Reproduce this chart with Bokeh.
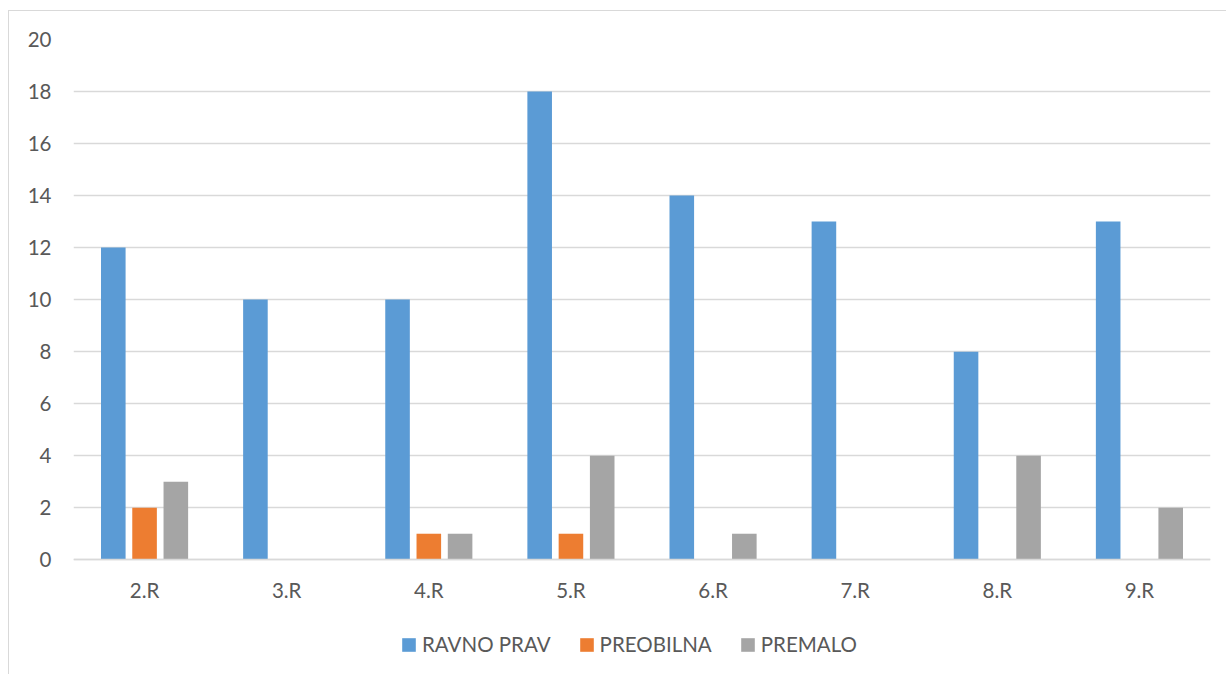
from bokeh.plotting import figure
from bokeh.models import (ColumnDataSource, FactorRange, Legend, LegendItem,
                          FixedTicker)
from bokeh.transform import dodge
from bokeh.embed import file_html
from bokeh.resources import INLINE

# Rounds and answer counts per category
rounds = ["2.R", "3.R", "4.R", "5.R", "6.R", "7.R", "8.R", "9.R"]
ravno_prav = [12, 10, 10, 18, 14, 13, 8, 13]
preobilna = [2, 0, 1, 1, 0, 0, 0, 0]
premalo = [3, 0, 1, 4, 1, 0, 4, 2]
y_ticks = [0, 2, 4, 6, 8, 10, 12, 14, 16, 18, 20]

series = [
    ("RAVNO PRAV", "ravno", "#5B9BD5", -0.22),
    ("PREOBILNA", "preobilna", "#ED7D31", 0.0),
    ("PREMALO", "premalo", "#A5A5A5", 0.22),
]

source = ColumnDataSource(data=dict(rounds=rounds, ravno=ravno_prav,
                                    preobilna=preobilna, premalo=premalo))

FONT = "Lato"
TEXT = "#595959"
GRID = "#D9D9D9"
FS = "20.5px"

# The frame reaches the bottom of the chart so the legend can sit under the
# category labels; the category axis stays anchored at zero.
p = figure(width=1218, height=664, x_range=FactorRange(*rounds, range_padding=0),
           y_range=(-4.45, 20), output_backend="svg", toolbar_location=None,
           min_border_left=64, min_border_right=17, min_border_top=28,
           min_border_bottom=0)
p.outline_line_color = None
p.background_fill_color = "white"
p.border_fill_color = "white"
# chart area border on the left and top edges
p.styles = {"margin-left": "8px", "margin-top": "10px",
            "border-left": "1px solid #D9D9D9", "border-top": "1px solid #D9D9D9"}

renderers = []
for label, col, color, off in series:
    r = p.vbar(x=dodge("rounds", off, range=p.x_range), top=col, width=0.173,
               source=source, fill_color=color, line_color=None)
    renderers.append((label, r))

# axes
p.yaxis.ticker = FixedTicker(ticks=y_ticks)
p.yaxis.axis_line_color = None
p.yaxis.major_tick_line_color = None
p.yaxis.minor_tick_line_color = None
p.yaxis.major_label_text_font = FONT
p.yaxis.major_label_text_font_size = FS
p.yaxis.major_label_text_color = TEXT
p.yaxis.major_label_standoff = 16

p.xaxis.fixed_location = 0
p.xaxis.axis_line_color = GRID
p.xaxis.axis_line_width = 1.5
p.xaxis.major_tick_line_color = None
p.xaxis.minor_tick_line_color = None
p.xaxis.major_label_text_font = FONT
p.xaxis.major_label_text_font_size = FS
p.xaxis.major_label_text_color = TEXT
p.xaxis.major_label_standoff = 12

p.xgrid.grid_line_color = None
p.ygrid.grid_line_color = GRID
p.ygrid.grid_line_width = 1.5

legend = Legend(items=[LegendItem(label=l, renderers=[r]) for l, r in renderers],
                orientation="horizontal", location=(327, 19),
                label_text_font=FONT, label_text_font_size=FS,
                label_text_color=TEXT, glyph_width=17, glyph_height=17,
                label_standoff=5, spacing=27, padding=0, margin=0,
                border_line_color=None, background_fill_alpha=0)
p.add_layout(legend, "center")

open("out.html", "w").write(file_html(p, INLINE))
